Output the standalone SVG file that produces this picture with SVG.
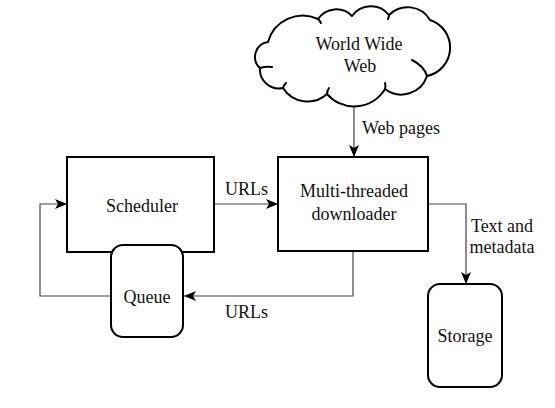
<svg xmlns="http://www.w3.org/2000/svg" width="555" height="408" viewBox="0 0 555 408">
<defs>
<style>
.box{fill:#fff;stroke:#000;stroke-width:2}
.cloud{fill:#fff;stroke:#000;stroke-width:2;stroke-linejoin:round}
.curl{fill:none;stroke:#000;stroke-width:2;stroke-linecap:round}
.conn{fill:none;stroke:#444;stroke-width:1.2}
.t{font-family:'Liberation Serif','Times New Roman',serif;font-size:18px;fill:#111}
.c{text-anchor:middle}
</style>
<marker id="arr" viewBox="0 0 12 10" refX="12" refY="5" markerWidth="12" markerHeight="10" markerUnits="userSpaceOnUse" orient="auto">
<path d="M0,0 L12,5 L0,10 L3,5 Z" fill="#000"/>
</marker>
</defs>
<rect width="555" height="408" fill="#fff"/>
<g id="connectors">
<path class="conn" d="M354,107 V157" marker-end="url(#arr)"/>
<path class="conn" d="M214,204 H278" marker-end="url(#arr)"/>
<path class="conn" d="M353,251 V296 H184" marker-end="url(#arr)"/>
<path class="conn" d="M111,296 H40 V204 H67" marker-end="url(#arr)"/>
<path class="conn" d="M428,204 H466 V284" marker-end="url(#arr)"/>
<text class="t" x="362" y="134">Web pages</text>
<text class="t" x="225" y="195">URLs</text>
<text class="t" x="225" y="318">URLs</text>
<text class="t c" x="502" y="232">Text and</text>
<text class="t c" x="502" y="253">metadata</text>
</g>
<g id="www">
<path class="cloud" d="M268,42 A36,36 0 0 1 318,19 A22,22 0 0 1 352,16 A23,23 0 0 1 389,15 A26,26 0 0 1 430,20 A29,29 0 0 1 427,76 A27,27 0 0 1 385,89 A36,36 0 0 1 327,94 A29,29 0 0 1 283,88 A19,19 0 0 1 260,68 A15,15 0 0 1 268,42 Z"/>
<path class="curl" d="M260,68 Q266,66 272,67"/>
<path class="curl" d="M283,88 Q284,85 286,83"/>
<path class="curl" d="M327,94 Q327,91 329,88"/>
<path class="curl" d="M385,89 Q386,86 385,83"/>
<path class="curl" d="M427,76 Q424,66 412,60"/>
<path class="curl" d="M318,19 Q320,21 321,23"/>
<path class="curl" d="M389,15 Q389,17 388,19"/>
<text class="t c" x="359" y="50">World Wide</text>
<text class="t c" x="360" y="72">Web</text>
</g>
<g id="scheduler">
<rect class="box" x="67" y="157" width="147" height="95"/>
<text class="t c" x="142" y="212">Scheduler</text>
</g>
<g id="queue">
<rect class="box" x="111" y="245" width="72" height="92" rx="12"/>
<text class="t c" x="147" y="303">Queue</text>
</g>
<g id="downloader">
<rect class="box" x="278" y="157" width="150" height="94"/>
<text class="t c" x="354" y="197">Multi-threaded</text>
<text class="t c" x="354" y="220">downloader</text>
</g>
<g id="storage">
<rect class="box" x="428" y="284" width="74" height="103" rx="12"/>
<text class="t c" x="465" y="342">Storage</text>
</g>
</svg>
